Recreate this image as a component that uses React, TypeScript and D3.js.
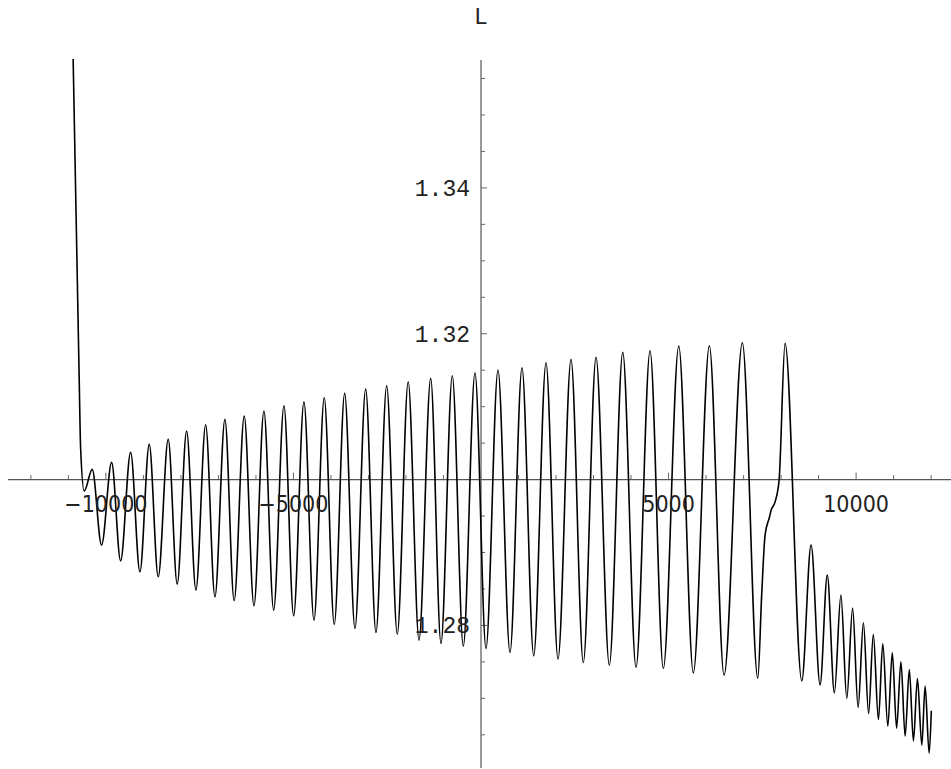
import React from "react";
import * as d3 from "d3";

// Curve samples: x (data units) and L values
const xs = [
  -10883, -10712, -10675, -10579, -10365, -10115, -9848, -9608, -9341, -9093,
  -8845, -8605, -8339, -8099, -7848, -7600, -7341, -7093, -6827, -6581,
  -6312, -6053, -5787, -5528, -5253, -4995, -4720, -4453, -4179, -3912,
  -3635, -3360, -3075, -2800, -2515, -2232, -1941, -1653, -1341, -1067,
  -765, -472, -160, 133, 453, 773, 1093, 1405, 1733, 2053,
  2400, 2728, 3067, 3421, 3779, 4133, 4507, 4861, 5272, 5661,
  6088, 6480, 6968, 7379, 7485, 7573, 7688, 7735, 7840, 7947, 8107,
  8552, 8800, 9040, 9232, 9421, 9595, 9752, 9907, 10053, 10195,
  10333, 10459, 10595, 10712, 10845, 10965, 11080, 11195, 11307, 11419,
  11528, 11635, 11752, 11840, 11947, 12005,
];
const ls = [
  1.3603, 1.3138, 1.30446, 1.29842, 1.3014, 1.29101, 1.30236, 1.28886, 1.30373, 1.28735,
  1.30483, 1.28667, 1.30551, 1.28567, 1.30665, 1.28484, 1.30752, 1.28392, 1.30826, 1.2834,
  1.30871, 1.28269, 1.3094, 1.2821, 1.31012, 1.28132, 1.31067, 1.28073, 1.31122, 1.28014,
  1.31182, 1.27959, 1.31241, 1.27904, 1.31287, 1.27881, 1.31342, 1.27798, 1.31388, 1.27753,
  1.31424, 1.27716, 1.31465, 1.27685, 1.31502, 1.2763, 1.31534, 1.27583, 1.31602, 1.27538,
  1.31649, 1.27492, 1.31676, 1.27455, 1.31745, 1.27424, 1.31767, 1.2741, 1.31831, 1.2735,
  1.31835, 1.27318, 1.31877, 1.27273, 1.28443, 1.29239, 1.29481, 1.2958, 1.29695, 1.29993, 1.31868,
  1.2724, 1.29101, 1.27185, 1.2869, 1.27075, 1.28416, 1.26999, 1.28237, 1.26875, 1.28036,
  1.26793, 1.27878, 1.26711, 1.27748, 1.26619, 1.27624, 1.26591, 1.27501, 1.26481, 1.27396,
  1.26417, 1.27273, 1.26358, 1.2717, 1.26248, 1.26831,
];

const xLabelValues = [-10000, -5000, 5000, 10000];
const xLabels = ["\u221210000", "\u22125000", "5000", "10000"];
const yLabelValues = [1.28, 1.32, 1.34];
const yLabels = ["1.28", "1.32", "1.34"];
const axisLabel = "L";

const X_RANGE = [-12610, 12530];
const Y_RANGE = [1.26045, 1.35754];
const AXIS_CROSS_Y = 1.3;

export default function App() {
  const W = 951;
  const H = 769;
  const x = d3.scaleLinear().domain(X_RANGE).range([8, 951]);
  const y = d3.scaleLinear().domain(Y_RANGE).range([768, 60]);
  const x0 = x(0);
  const y0 = y(AXIS_CROSS_Y);

  const data: [number, number][] = xs.map((v, i) => [v, ls[i]]);
  const line = d3
    .line<[number, number]>()
    .x((d) => x(d[0]))
    .y((d) => y(d[1]))
    .curve(d3.curveMonotoneX);

  const xTicks = d3.range(-12000, 12001, 1000).filter((t) => t !== 0);
  const yTicks = d3
    .range(1.265, 1.3551, 0.005)
    .map((t) => Math.round(t * 1000) / 1000)
    .filter((t) => Math.abs(t - AXIS_CROSS_Y) > 1e-6);

  return (
    <svg
      width={W}
      height={H}
      style={{ position: "absolute", left: 0, top: 0, display: "block", background: "#fff" }}
    >
      <defs>
        <clipPath id="plotclip">
          <rect x={0} y={59} width={W} height={H - 59} />
        </clipPath>
      </defs>
      {/* axes */}
      <line x1={8} x2={951} y1={y0} y2={y0} stroke="#555" strokeWidth={1.4} />
      <line x1={x0} x2={x0} y1={60} y2={768} stroke="#777" strokeWidth={1.5} />
      {xTicks.map((t) => {
        const major = t % 5000 === 0;
        return (
          <line
            key={"xt" + t}
            x1={x(t)}
            x2={x(t)}
            y1={y0}
            y2={y0 - (major ? 7 : 4.5)}
            stroke="#666"
            strokeWidth={1}
          />
        );
      })}
      {yTicks.map((t) => {
        const major = Math.abs(Math.round(t * 100) - t * 100) < 1e-6 && Math.round(t * 100) % 2 === 0;
        return (
          <line
            key={"yt" + t}
            x1={x0}
            x2={x0 + (major ? 6 : 4)}
            y1={y(t)}
            y2={y(t)}
            stroke="#666"
            strokeWidth={1}
          />
        );
      })}
      {/* curve */}
      <path
        d={line(data) || ""}
        fill="none"
        stroke="#000"
        strokeWidth={1.6}
        strokeLinejoin="round"
        clipPath="url(#plotclip)"
      />
      {/* labels */}
      {xLabelValues.map((v, i) => (
        <text
          key={"xl" + v}
          x={x(v)}
          y={512}
          textAnchor="middle"
          fontFamily="'DejaVu Sans Condensed', 'DejaVu Sans', sans-serif"
          fontSize={23}
          fill="#222"
        >
          {xLabels[i]}
        </text>
      ))}
      {yLabelValues.map((v, i) => (
        <text
          key={"yl" + v}
          x={470}
          y={y(v) + 8}
          textAnchor="end"
          fontFamily="'Liberation Mono', monospace"
          fontSize={23}
          fill="#222"
        >
          {yLabels[i]}
        </text>
      ))}
      <text
        x={x0}
        y={24}
        textAnchor="middle"
        fontFamily="'Liberation Mono', monospace"
        fontSize={23}
        fill="#222"
      >
        {axisLabel}
      </text>
    </svg>
  );
}
